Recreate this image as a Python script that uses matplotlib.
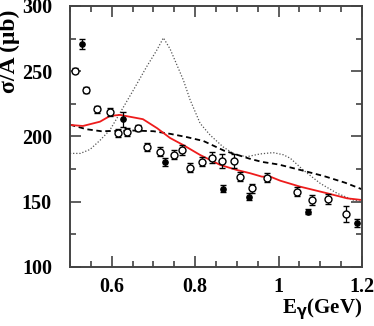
import matplotlib.pyplot as plt
from matplotlib.ticker import MultipleLocator

plt.rcParams['font.family'] = ['Liberation Serif', 'DejaVu Serif']
plt.rcParams['font.weight'] = 'bold'

# open circles (data set 1)
open_x = [0.512, 0.539, 0.566, 0.596, 0.616, 0.636, 0.664, 0.684, 0.717, 0.749,
          0.768, 0.788, 0.817, 0.840, 0.864, 0.894, 0.908, 0.936, 0.972, 1.044,
          1.080, 1.118, 1.162]
open_y = [250.2, 235.6, 220.8, 219.0, 202.7, 203.7, 206.3, 192.2, 188.4, 186.0,
          189.7, 176.1, 180.7, 183.8, 181.2, 181.2, 169.2, 160.3, 168.4, 157.7,
          151.3, 151.9, 140.4]
open_err = [2, 2, 2.5, 3, 3, 3, 2.5, 3, 3.5, 3.5,
            4, 3.5, 3.5, 4, 5, 5, 3.5, 3.5, 3.5, 3.5,
            4, 4, 6]

# filled circles (data set 2)
full_x = [0.529, 0.627, 0.728, 0.868, 0.930, 1.070, 1.189]
full_y = [270.9, 213.0, 180.2, 160.0, 153.9, 142.4, 134.0]
full_err = [4, 6, 3, 2.5, 2.5, 2, 3]

# model curves
red_x = [0.5, 0.531, 0.572, 0.596, 0.620, 0.675, 0.709, 0.740, 0.771, 0.812,
         0.860, 0.900, 0.932, 0.960, 0.980, 1.004, 1.052, 1.116, 1.164, 1.2]
red_y = [208.8, 208.0, 211.3, 215.7, 216.5, 213.2, 206.3, 198.8, 193.5, 185.8,
         178.2, 174.3, 171.8, 169.2, 169.2, 166.1, 161.5, 156.5, 152.6, 151.3]

dash_x = [0.5, 0.54, 0.575, 0.65, 0.70, 0.74, 0.78, 0.82, 0.87, 0.93,
          0.96, 1.0, 1.05, 1.11, 1.16, 1.2]
dash_y = [209.0, 205.5, 204.0, 204.5, 204.0, 202.0, 199.5, 196.5, 189.0, 183.0,
          180.5, 178.5, 174.5, 169.5, 164.5, 159.5]

dot_x = [0.5, 0.525, 0.548, 0.572, 0.596, 0.62, 0.652, 0.684, 0.708, 0.724,
         0.74, 0.772, 0.788, 0.812, 0.836, 0.867, 0.896, 0.924, 0.956, 0.987,
         1.011, 1.028, 1.059, 1.100, 1.140, 1.179, 1.2]
dot_y = [187.0, 187.0, 190.0, 197.0, 205.0, 218.0, 235.5, 253.5, 266.0, 275.5,
         267.0, 243.0, 228.0, 210.0, 201.0, 192.0, 186.0, 184.5, 186.6, 187.6,
         186.0, 183.3, 174.3, 164.0, 156.5, 151.3, 150.0]

fig = plt.figure(figsize=(3.74, 3.26), dpi=100)
ax = fig.add_axes([0.187, 0.181, 0.781, 0.801])

ax.plot(dot_x, dot_y, linestyle=(0, (1, 1.5)), color='#555555', lw=0.9)
ax.plot(dash_x, dash_y, linestyle=(0, (3, 2)), color='black', lw=1.3)
ax.plot(red_x, red_y, color='#ee1c1c', lw=1.3)

ax.errorbar(open_x, open_y, yerr=open_err, fmt='o', mfc='white', mec='black',
            ms=5, mew=1.0, ecolor='black', elinewidth=0.9, capsize=2.2)
ax.errorbar(full_x, full_y, yerr=full_err, fmt='o', color='black',
            ms=3.8, elinewidth=0.9, capsize=2.2)

ax.set_xlim(0.5, 1.2)
ax.set_ylim(100, 300)
ax.xaxis.set_minor_locator(MultipleLocator(0.05))
ax.yaxis.set_major_locator(MultipleLocator(50))
ax.yaxis.set_minor_locator(MultipleLocator(25))
ax.set_xticks([0.6, 0.8, 1.0, 1.2])
ax.set_xticklabels(['0.6', '0.8', '1', '1.2'])
ax.tick_params(which='both', direction='in', top=True, right=True,
               labelsize=14.5, width=1.1, colors='#333333', labelcolor='black')
ax.tick_params(which='major', length=8)
ax.tick_params(which='minor', length=4)
ax.tick_params(axis='y', which='major', pad=13)
ax.tick_params(axis='x', which='major', pad=7)
for s in ax.spines.values():
    s.set_linewidth(1.4)
    s.set_color('#444444')

ax.set_ylabel('σ/A (μb)', fontsize=17, fontweight='bold', loc='top')
ax.yaxis.set_label_coords(-0.17, 0.985)
ax.set_xlabel('E$_\\mathbf{\\gamma}$(GeV)', fontsize=15, fontweight='bold', loc='right')
ax.xaxis.set_label_coords(1.0, -0.11)

fig.savefig('out.png', dpi=100)
